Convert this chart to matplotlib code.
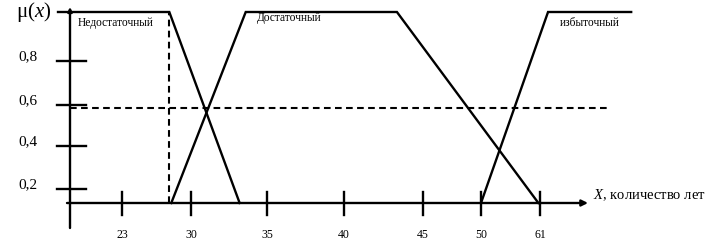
import numpy as np
import matplotlib
matplotlib.use('Agg')
import matplotlib.pyplot as plt

serif = 'Liberation Serif'
plt.rcParams['mathtext.fontset'] = 'custom'
plt.rcParams['mathtext.rm'] = serif
plt.rcParams['mathtext.it'] = serif + ':italic'

# Membership functions (years -> degree)
low_x = [17.7, 27.8, 33.2]
low_mu = [1, 1, 0]
mid_x = [28.0, 33.6, 43.35, 60.7]
mid_mu = [0, 1, 1, 0]
high_x = [50.0, 62.5, 78.0]
high_mu = [0, 1, 1]
cut_level = 0.585
cut_x = 27.8

x_ticks = [23, 30, 35, 40, 45, 50, 61]
x_tick_labels = ['23', '30', '35', '40', '45', '50', '61']
y_ticks = [0.2, 0.4, 0.6, 0.8]
y_tick_labels = ['0,2', '0,4', '0,6', '0,8']
term_names = ['Недостаточный', 'Достаточный', 'избыточный']

# the hand drawing does not space its ticks evenly, so the axes use
# a piecewise-linear scale through the pixel position of each tick
x_anchor = [23, 30, 35, 40, 45, 50, 61]
x_anchor_px = [122, 191, 267, 344, 423, 481, 540]
y_anchor = [0, 0.2, 0.4, 0.6, 0.8, 1.0]
y_anchor_px = [47, 61, 104, 145, 189, 238]


def piecewise(v, xp, fp):
    v = np.asarray(v, dtype=float)
    out = np.interp(v, xp, fp)
    lo_slope = (fp[1] - fp[0]) / (xp[1] - xp[0])
    hi_slope = (fp[-1] - fp[-2]) / (xp[-1] - xp[-2])
    out = np.where(v < xp[0], fp[0] + (v - xp[0]) * lo_slope, out)
    out = np.where(v > xp[-1], fp[-1] + (v - xp[-1]) * hi_slope, out)
    return out


def fx(v):
    return piecewise(v, x_anchor, x_anchor_px)


def ix(p):
    return float(piecewise(p, x_anchor_px, x_anchor))


def fy(v):
    return piecewise(v, y_anchor, y_anchor_px)


def iy(p):
    return float(piecewise(p, y_anchor_px, y_anchor))


W, H = 719, 250
fig = plt.figure(figsize=(W / 100, H / 100), dpi=100)
ax = fig.add_axes([0, 0, 1, 1])
ax.set_xscale('function', functions=(fx, lambda p: piecewise(p, x_anchor_px, x_anchor)))
ax.set_yscale('function', functions=(fy, lambda p: piecewise(p, y_anchor_px, y_anchor)))
ax.set_xlim(ix(0), ix(W))
ax.set_ylim(iy(0), iy(H))
ax.axis('off')

lw = 1.7

# membership functions
ax.plot(low_x, low_mu, color='black', lw=lw, solid_joinstyle='miter')
ax.plot(mid_x, mid_mu, color='black', lw=lw, solid_joinstyle='miter')
ax.plot(high_x, high_mu, color='black', lw=lw, solid_joinstyle='miter')

# dashed cut lines
x_axis_pos = ix(70)
ax.plot([x_axis_pos, ix(608)], [cut_level, cut_level], color='black',
        lw=1.5, dashes=(3.2, 2.1))
ax.plot([cut_x, cut_x], [0, 1], color='black', lw=1.5, dashes=(3.2, 2.1))

# axes with arrows
ax.annotate('', xy=(x_axis_pos, iy(243)), xytext=(x_axis_pos, iy(22)),
            arrowprops=dict(arrowstyle='-|>', lw=lw, color='black', mutation_scale=6,
                            shrinkA=0, shrinkB=0))
ax.annotate('', xy=(ix(588), 0), xytext=(ix(67), 0),
            arrowprops=dict(arrowstyle='-|>', lw=lw, color='black', mutation_scale=9,
                            shrinkA=0, shrinkB=0))

# tick marks
for v in y_ticks:
    ax.plot([ix(57), ix(86)], [v, v], color='black', lw=lw)
ax.plot([ix(58), x_axis_pos], [1, 1], color='black', lw=lw)
for v in x_ticks:
    ax.plot([v, v], [iy(35), iy(58)], color='black', lw=lw)

# tick labels
for v, lab in zip(x_ticks, x_tick_labels):
    ax.text(v, iy(15), lab, ha='center', va='center', fontsize=8.5, family=serif)
for v, lab in zip(y_ticks, y_tick_labels):
    ax.annotate(lab, xy=(ix(28), v), xytext=(0, 4), textcoords='offset pixels',
                ha='center', va='center', fontsize=11, family=serif)

ax.text(ix(16), 1, r'$\mathregular{\mu(}\mathit{x}\mathregular{)}$',
        ha='left', va='center', fontsize=15, family=serif)

# term names
ax.annotate(term_names[0], xy=(x_axis_pos, 1), xytext=(8, -11), textcoords='offset pixels',
            ha='left', va='center', fontsize=8.3, family=serif)
ax.annotate(term_names[1], xy=(mid_x[1], 1), xytext=(11, -6), textcoords='offset pixels',
            ha='left', va='center', fontsize=8.3, family=serif)
ax.annotate(term_names[2], xy=(high_x[1], 1), xytext=(12, -11), textcoords='offset pixels',
            ha='left', va='center', fontsize=8.3, family=serif)

ax.text(ix(593), iy(55), r'$\mathit{X}$, количество лет',
        ha='left', va='center', fontsize=10.5, family=serif)

fig.savefig('out.png', dpi=100)
